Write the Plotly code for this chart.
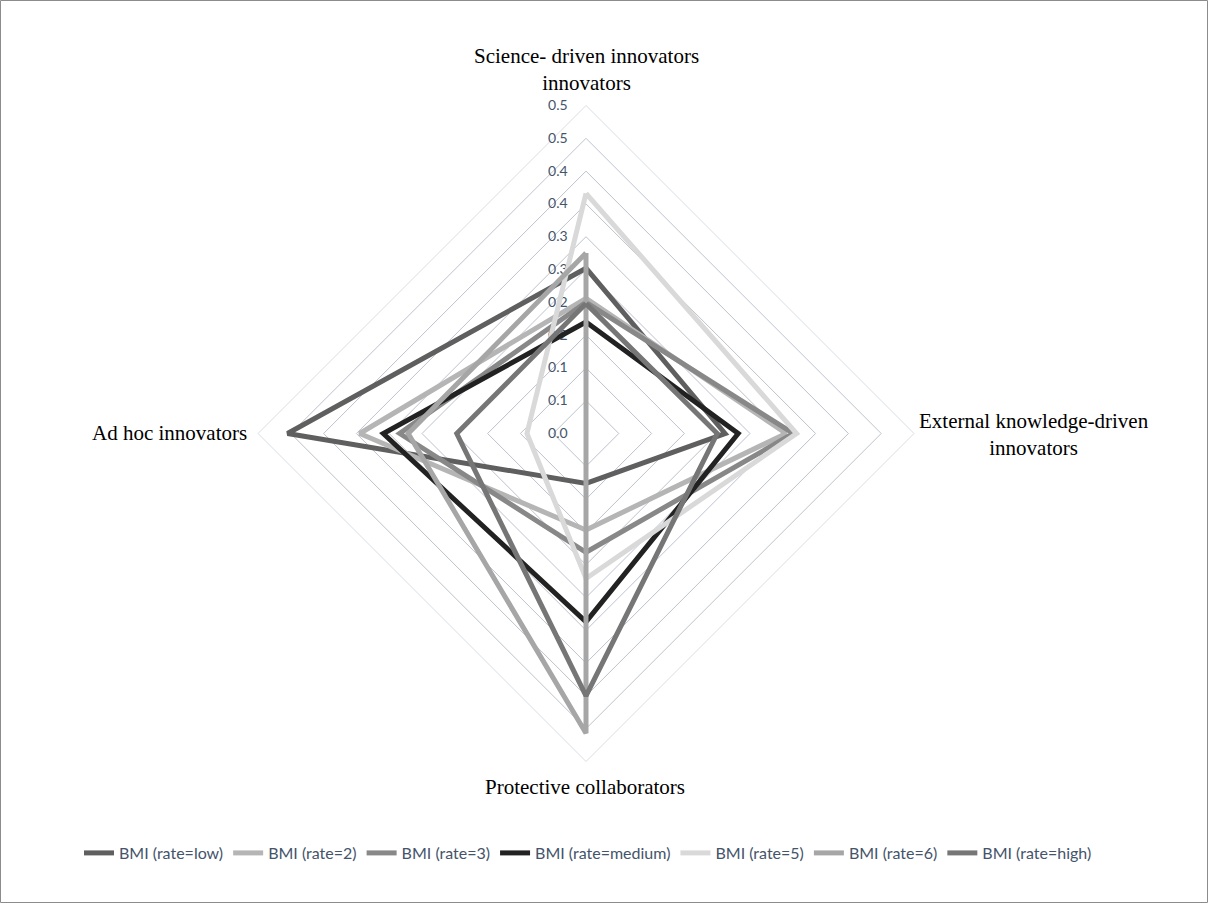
import plotly.graph_objects as go

# Axes of the radar, clockwise from the top
categories = [
    "Science- driven innovators innovators",
    "External knowledge-driven innovators",
    "Protective collaborators",
    "Ad hoc innovators",
]
# Same axes as printed around the chart (with line breaks)
axis_labels = [
    "Science- driven innovators<br>innovators",
    "External knowledge-driven<br>innovators",
    "Protective collaborators",
    "Ad hoc innovators",
]

# Share of firms per innovator type, one list per BMI rate
bmi_low = [0.252, 0.212, 0.076, 0.455]
bmi_2 = [0.206, 0.305, 0.147, 0.345]
bmi_3 = [0.200, 0.316, 0.181, 0.284]
bmi_medium = [0.170, 0.232, 0.287, 0.309]
bmi_5 = [0.366, 0.321, 0.221, 0.090]
bmi_6 = [0.275, 0.000, 0.457, 0.271]
bmi_high = [0.198, 0.200, 0.400, 0.197]

series_names = [
    "BMI (rate=low)", "BMI (rate=2)", "BMI (rate=3)", "BMI (rate=medium)",
    "BMI (rate=5)", "BMI (rate=6)", "BMI (rate=high)",
]
series_values = [bmi_low, bmi_2, bmi_3, bmi_medium, bmi_5, bmi_6, bmi_high]
series_colors = ["#5f5f5f", "#b5b5b5", "#888888", "#222222",
                 "#d9d9d9", "#a6a6a6", "#767676"]

# Radial scale: 0.05 steps, labels rounded to one decimal
radial_ticks = [0.0, 0.05, 0.1, 0.15, 0.2, 0.25, 0.3, 0.35, 0.4, 0.45, 0.5]
radial_labels = ["0.0", "0.1", "0.1", "0.2", "0.2", "0.3", "0.3",
                 "0.4", "0.4", "0.5", "0.5"]

W, H = 1209, 904
cx, cy, R = 586, 433.5, 328


def px(x):
    return x / W


def py(y):
    return 1 - y / H


fig = go.Figure()
for name, vals, col in zip(series_names, series_values, series_colors):
    fig.add_trace(go.Scatterpolar(
        r=vals + vals[:1],
        theta=categories + categories[:1],
        mode="lines",
        name=name,
        line=dict(color=col, width=5),
    ))

grid_col = "#bcc2cd"
label_font = dict(family="Lato, Open Sans, sans-serif", size=14, color="#44546a")
cat_font = dict(family="Liberation Serif, Times New Roman, serif",
                size=21, color="#000000")

# Category captions placed just outside each tip of the outer diamond
cat_pos = [
    dict(x=px(cx), y=py(69), xanchor="center", yanchor="middle"),
    dict(x=px(917), y=py(434), xanchor="left", yanchor="middle"),
    dict(x=px(585), y=py(787), xanchor="center", yanchor="middle"),
    dict(x=px(249), y=py(433), xanchor="right", yanchor="middle"),
]
annotations = [
    dict(text=t, xref="paper", yref="paper", showarrow=False, align="center",
         font=cat_font, **pos)
    for t, pos in zip(axis_labels, cat_pos)
]

fig.update_layout(
    width=W, height=H,
    margin=dict(l=0, r=0, t=0, b=0),
    paper_bgcolor="white",
    plot_bgcolor="white",
    showlegend=True,
    polar=dict(
        domain=dict(x=[px(cx - R), px(cx + R)],
                    y=[py(cy + R), py(cy - R)]),
        gridshape="linear",
        bgcolor="white",
        radialaxis=dict(
            range=[0, 0.5],
            angle=90,
            tickangle=90,
            side="counterclockwise",
            tickvals=radial_ticks,
            ticktext=radial_labels,
            showline=False,
            ticks="outside",
            ticklen=13,
            tickcolor="rgba(0,0,0,0)",
            gridcolor=grid_col,
            gridwidth=1,
            tickfont=label_font,
            layer="below traces",
        ),
        angularaxis=dict(
            direction="clockwise",
            rotation=90,
            showgrid=False,
            showline=True,
            linecolor="#d8dce3",
            linewidth=1,
            ticks="",
            showticklabels=False,
            layer="below traces",
        ),
    ),
    annotations=annotations,
    legend=dict(
        orientation="h",
        x=px(588), xanchor="center",
        y=py(853), yanchor="middle",
        font=dict(label_font, size=16),
        itemwidth=30,
        tracegroupgap=0,
    ),
    shapes=[dict(
        type="rect", xref="paper", yref="paper",
        x0=0.5 / W, x1=1 - 1.5 / W, y0=1.5 / H, y1=1 - 0.5 / H,
        line=dict(color="#8c8c8c", width=1),
        fillcolor="rgba(0,0,0,0)",
    )],
)

fig.write_html("out.html")
